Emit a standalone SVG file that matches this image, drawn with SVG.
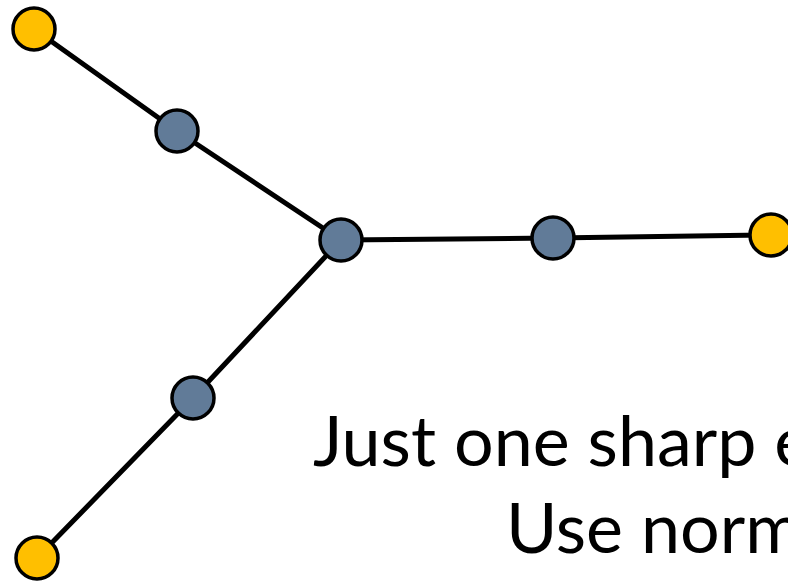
<svg xmlns="http://www.w3.org/2000/svg" width="788" height="582" viewBox="0 0 788 582">
<style>
.edge{stroke:#000;stroke-width:5;fill:none;stroke-linecap:round}
.leaf{fill:#FFBF00;stroke:#000;stroke-width:3.5}
.inner{fill:#617B98;stroke:#000;stroke-width:3.5}
.t{font-family:Lato,"Open Sans",sans-serif;font-size:70px;fill:#000}
</style>
<rect width="788" height="582" fill="#fff"/>
<g id="connectors">
<line class="edge" x1="34" y1="29" x2="177" y2="131"/>
<line class="edge" x1="177" y1="131" x2="341" y2="240"/>
<line class="edge" x1="341" y1="240" x2="553" y2="238"/>
<line class="edge" x1="553" y1="238" x2="771" y2="235"/>
<line class="edge" x1="341" y1="240" x2="193" y2="398"/>
<line class="edge" x1="193" y1="398" x2="37" y2="558"/>
</g>
<g id="n1"><circle class="leaf" cx="34" cy="29" r="21"/></g>
<g id="n2"><circle class="inner" cx="177" cy="131" r="21"/></g>
<g id="n3"><circle class="inner" cx="341" cy="240" r="21"/></g>
<g id="n4"><circle class="inner" cx="553" cy="238" r="21"/></g>
<g id="n5"><circle class="leaf" cx="771" cy="235" r="21"/></g>
<g id="n6"><circle class="inner" cx="193" cy="398" r="21"/></g>
<g id="n7"><circle class="leaf" cx="37" cy="558" r="21"/></g>
<g id="caption">
<text class="t" x="313" y="466">Just one sharp e</text>
<text class="t" x="506" y="553">Use norm</text>
</g>
</svg>
